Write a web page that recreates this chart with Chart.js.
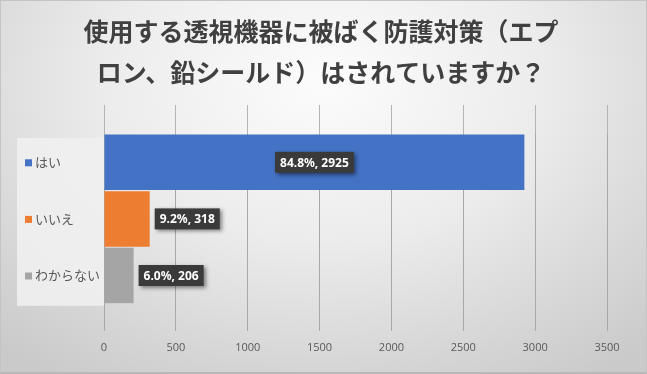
<!DOCTYPE html>
<html>
<head>
<meta charset="utf-8">
<script src="https://cdn.jsdelivr.net/npm/chart.js@4"></script>
<style>
  html, body { margin: 0; padding: 0; }
  body { width: 647px; height: 374px; overflow: hidden; }
  #wrap {
    width: 647px; height: 374px; box-sizing: border-box;
    border: 1px solid #c4c4c4; border-bottom: 2px solid #b8b8b8;
    background: radial-gradient(ellipse 75% 95% at 50% 22%, #fcfcfc 0%, #ececec 45%, #d6d6d6 80%, #cacaca 100%);
  }
  canvas { display: block; }
</style>
</head>
<body>
<div id="wrap"><canvas id="chart" width="645" height="371"></canvas></div>
<script>
const titleLines = ['使用する透視機器に被ばく防護対策（エプ', 'ロン、鉛シールド）はされていますか？'];
const categories = ['はい', 'いいえ', 'わからない'];
const counts = [2925, 318, 206];
const percents = ['84.8%', '9.2%', '6.0%'];
const barColors = ['#4472C4', '#ED7D31', '#A5A5A5'];

// ── 左側のラベル背景パネルとマーカー ─────────────
const labelPanel = {
    id: 'labelPanel',
    beforeDraw(chart) {
        const { ctx, chartArea } = chart;
        ctx.save();
        ctx.fillStyle = 'rgba(240,240,240,0.9)';
        ctx.fillRect(16, chartArea.top + 4, chartArea.left - 16, chartArea.bottom - chartArea.top - 2);
        ctx.restore();
    },
    afterDraw(chart) {
        const { ctx, scales } = chart;
        const y = scales.y;
        ctx.save();
        categories.forEach((c, i) => {
            const py = y.getPixelForTick(i);
            ctx.fillStyle = barColors[i];
            ctx.fillRect(y.left - 10, py - 3, 7, 7);
        });
        ctx.restore();
    }
};

// ── データラベル（黒いボックス）─────────────
const boxLabels = {
    id: 'boxLabels',
    afterDatasetsDraw(chart) {
        const { ctx } = chart;
        const meta = chart.getDatasetMeta(0);
        ctx.save();
        ctx.font = 'bold 12px "Noto Sans", "Open Sans", sans-serif';
        ctx.textBaseline = 'middle';
        meta.data.forEach((bar, i) => {
            const text = `${percents[i]}, ${counts[i]}`;
            const w = ctx.measureText(text).width + 10;
            const h = 21;
            const inside = i === 0;
            const cx = inside ? (bar.base + bar.x) / 2 : bar.x + 5 + w / 2;
            const cy = bar.y;
            ctx.shadowColor = 'rgba(0,0,0,0.45)';
            ctx.shadowBlur = 4;
            ctx.shadowOffsetX = 2;
            ctx.shadowOffsetY = 2;
            ctx.fillStyle = '#3a3a3a';
            ctx.fillRect(cx - w / 2, cy - h / 2, w, h);
            ctx.shadowColor = 'transparent';
            ctx.fillStyle = '#ffffff';
            ctx.textAlign = 'center';
            ctx.fillText(text, cx, cy + 1);
        });
        ctx.restore();
    }
};

const ctx = document.getElementById('chart').getContext('2d');
new Chart(ctx, {
    type: 'bar',
    data: {
        labels: categories,
        datasets: [{
            data: counts,
            backgroundColor: barColors,
            borderWidth: 0,
            barPercentage: 0.98,
            categoryPercentage: 1
        }]
    },
    options: {
        indexAxis: 'y',
        responsive: false,
        animation: false,
        layout: { padding: { left: 34, right: 39, top: 0, bottom: 8 } },
        plugins: {
            legend: { display: false },
            tooltip: { enabled: false },
            title: {
                display: true,
                text: titleLines,
                color: '#404040',
                font: { size: 25, weight: 'bold', family: '"Noto Sans CJK JP", sans-serif', lineHeight: 1.64 },
                padding: { top: 10, bottom: 12 }
            }
        },
        scales: {
            x: {
                min: 0, max: 3500,
                ticks: {
                    stepSize: 500, color: '#595959', padding: 10,
                    font: { size: 11, family: '"Open Sans", sans-serif' },
                    callback: (v) => String(v)
                },
                grid: { color: '#a8a8a8', tickLength: 27, tickColor: '#a8a8a8' },
                border: { display: false }
            },
            x2: {
                position: 'top',
                min: 0, max: 3500,
                ticks: { display: false, stepSize: 500 },
                grid: { color: '#b4b4b4', tickLength: 29, drawOnChartArea: false, tickColor: '#b4b4b4' },
                border: { display: false }
            },
            y: {
                ticks: { color: '#595959', crossAlign: 'far', font: { size: 13, family: '"Noto Sans CJK JP", sans-serif' } },
                grid: { display: false },
                border: { display: false },
                afterFit: (scale) => { scale.width = 69; }
            }
        }
    },
    plugins: [labelPanel, boxLabels]
});
</script>
</body>
</html>
